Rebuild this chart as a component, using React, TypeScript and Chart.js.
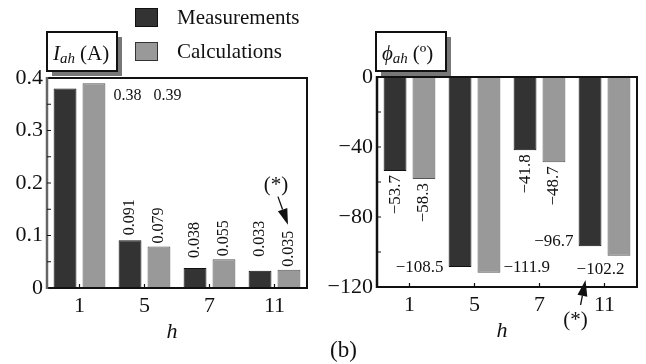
import React, { useEffect, useRef } from 'react';
import { Chart, registerables } from 'chart.js';

Chart.register(...registerables);

// ---- data ----
const harmonics = ['1', '5', '7', '11'];
const seriesNames = ['Measurements', 'Calculations'];
const currentMeasured = [0.38, 0.091, 0.038, 0.033];
const currentCalculated = [0.39, 0.079, 0.055, 0.035];
const angleMeasured = [-53.7, -108.5, -41.8, -96.7];
const angleCalculated = [-58.3, -111.9, -48.7, -102.2];
const currentTicks = [0, 0.1, 0.2, 0.3, 0.4];
const angleTicks = [-120, -80, -40, 0];

// ---- styles ----
const SERIF = '"Liberation Serif", "Times New Roman", "DejaVu Serif", serif';
const DARK = '#333333';
const LIGHT = '#999999';
const INK = '#111111';

const fmtCurrent = (v: number) => String(v);
const fmtAngle = (v: number) => (v < 0 ? '\u2212' + Math.abs(v) : String(v));

function drawFrame(chart: any, majors: number[], leftColor: string) {
  const { ctx, chartArea: a, scales } = chart;
  ctx.save();
  ctx.strokeStyle = INK;
  ctx.lineWidth = 2;
  ctx.beginPath();
  ctx.moveTo(a.left, a.top);
  ctx.lineTo(a.right, a.top);
  ctx.lineTo(a.right, a.bottom);
  ctx.lineTo(a.left - 1, a.bottom);
  ctx.stroke();
  ctx.strokeStyle = leftColor;
  ctx.lineWidth = 2.5;
  ctx.beginPath();
  ctx.moveTo(a.left, a.top - 1);
  ctx.lineTo(a.left, a.bottom + 1);
  ctx.stroke();
  ctx.strokeStyle = INK;
  ctx.lineWidth = 1.2;
  const vals = [...majors];
  for (let i = 0; i < majors.length - 1; i++) vals.push((majors[i] + majors[i + 1]) / 2);
  ctx.beginPath();
  for (const v of vals) {
    const py = scales.y.getPixelForValue(v);
    if (Math.abs(py - a.top) < 2 || Math.abs(py - a.bottom) < 2) continue;
    ctx.moveTo(a.left, py);
    ctx.lineTo(a.left + 4, py);
  }
  for (let i = 0; i < harmonics.length; i++) {
    const px = scales.x.getPixelForValue(i);
    ctx.moveTo(px, a.bottom);
    ctx.lineTo(px, a.bottom - 4);
  }
  ctx.stroke();
  ctx.restore();
}

function rotUp(ctx: CanvasRenderingContext2D, x: number, y: number, text: string) {
  ctx.save();
  ctx.translate(x, y);
  ctx.rotate(-Math.PI / 2);
  ctx.textAlign = 'left';
  ctx.textBaseline = 'middle';
  ctx.fillText(text, 0, 0);
  ctx.restore();
}

function rotDown(ctx: CanvasRenderingContext2D, x: number, y: number, text: string) {
  ctx.save();
  ctx.translate(x, y);
  ctx.rotate(-Math.PI / 2);
  ctx.textAlign = 'right';
  ctx.textBaseline = 'middle';
  ctx.fillText(text, 0, 0);
  ctx.restore();
}

function arrow(ctx: CanvasRenderingContext2D, x1: number, y1: number, x2: number, y2: number) {
  const ang = Math.atan2(y2 - y1, x2 - x1);
  const len = 16, hw = 5;
  const bx = x2 - len * Math.cos(ang), by = y2 - len * Math.sin(ang);
  ctx.save();
  ctx.strokeStyle = INK;
  ctx.fillStyle = INK;
  ctx.lineWidth = 1.3;
  ctx.beginPath();
  ctx.moveTo(x1, y1);
  ctx.lineTo(bx, by);
  ctx.stroke();
  ctx.beginPath();
  ctx.moveTo(x2, y2);
  ctx.lineTo(bx + hw * Math.sin(ang), by - hw * Math.cos(ang));
  ctx.lineTo(bx - hw * Math.sin(ang), by + hw * Math.cos(ang));
  ctx.closePath();
  ctx.fill();
  ctx.restore();
}

function titleBox(ctx: CanvasRenderingContext2D, x: number, y: number, w: number, h: number, main: string, sub: string, rest: string) {
  ctx.save();
  ctx.fillStyle = '#777';
  ctx.fillRect(x + 5, y + 5, w, h);
  ctx.fillStyle = '#fff';
  ctx.fillRect(x, y, w, h);
  ctx.strokeStyle = INK;
  ctx.lineWidth = 2;
  ctx.strokeRect(x, y, w, h);
  ctx.fillStyle = INK;
  ctx.textAlign = 'left';
  ctx.textBaseline = 'alphabetic';
  let cx = x + 6;
  const base = y + 28;
  ctx.font = `italic 21px ${SERIF}`;
  ctx.fillText(main, cx, base);
  cx += ctx.measureText(main).width;
  ctx.font = `italic 15px ${SERIF}`;
  ctx.fillText(sub, cx, base + 3);
  cx += ctx.measureText(sub).width + 5;
  ctx.font = `21px ${SERIF}`;
  ctx.fillText(rest, cx, base);
  ctx.restore();
}

function axisName(chart: any) {
  const { ctx, chartArea: a } = chart;
  ctx.save();
  ctx.fillStyle = INK;
  ctx.font = `italic 22px ${SERIF}`;
  ctx.textAlign = 'center';
  ctx.textBaseline = 'alphabetic';
  ctx.fillText('h', (a.left + a.right) / 2 - 5, a.bottom + 50);
  ctx.restore();
}

function drawLeft(chart: any) {
  const { ctx, chartArea: a } = chart;
  drawFrame(chart, currentTicks, '#666');
  axisName(chart);
  const m = chart.getDatasetMeta(0).data;
  const c = chart.getDatasetMeta(1).data;
  ctx.save();
  ctx.fillStyle = INK;
  ctx.font = `16px ${SERIF}`;
  ctx.textAlign = 'left';
  ctx.textBaseline = 'middle';
  const right0 = c[0].x + c[0].width / 2;
  ctx.fillText(fmtCurrent(currentMeasured[0]), right0 + 8, c[0].y + 13);
  ctx.fillText(fmtCurrent(currentCalculated[0]), right0 + 48, c[0].y + 13);
  const gapM = [0, 5, 10, 14];
  const gapC = [0, 3, 3, 3];
  for (let i = 1; i < harmonics.length; i++) {
    rotUp(ctx, m[i].x, m[i].y - gapM[i], fmtCurrent(currentMeasured[i]));
    rotUp(ctx, c[i].x, c[i].y - gapC[i], fmtCurrent(currentCalculated[i]));
  }
  ctx.restore();

  // (*) annotation
  const tipX = c[3].x - 1, tipY = c[3].y - 45;
  arrow(ctx, tipX - 10, tipY - 28, tipX, tipY);
  ctx.save();
  ctx.fillStyle = INK;
  ctx.font = `21px ${SERIF}`;
  ctx.textAlign = 'center';
  ctx.textBaseline = 'middle';
  ctx.fillText('(*)', tipX - 12, tipY - 39);
  ctx.restore();

  // title box
  titleBox(ctx, a.left, a.top - 46, 70, 39, 'I', 'ah', '(A)');

  // legend
  ctx.save();
  const lx = 135;
  const rows = [
    { y: 8, fill: DARK, stroke: INK, name: seriesNames[0] },
    { y: 42, fill: LIGHT, stroke: '#333', name: seriesNames[1] },
  ];
  for (const r of rows) {
    ctx.fillStyle = r.fill;
    ctx.fillRect(lx, r.y, 23, 19);
    ctx.strokeStyle = r.stroke;
    ctx.lineWidth = 1;
    ctx.strokeRect(lx + 0.5, r.y + 0.5, 22, 18);
    ctx.fillStyle = INK;
    ctx.font = `21px ${SERIF}`;
    ctx.textAlign = 'left';
    ctx.textBaseline = 'middle';
    ctx.fillText(r.name, 177, r.y + 10);
  }
  ctx.restore();
}

function drawRight(chart: any) {
  const { ctx, chartArea: a } = chart;
  drawFrame(chart, angleTicks, INK);
  axisName(chart);
  const m = chart.getDatasetMeta(0).data;
  const c = chart.getDatasetMeta(1).data;
  ctx.save();
  ctx.fillStyle = INK;
  ctx.font = `17px ${SERIF}`;
  for (const i of [0, 2]) {
    rotDown(ctx, m[i].x, m[i].y + 4, fmtAngle(angleMeasured[i]));
    rotDown(ctx, c[i].x, c[i].y + 4, fmtAngle(angleCalculated[i]));
  }
  ctx.textBaseline = 'middle';
  ctx.textAlign = 'right';
  ctx.fillText(fmtAngle(angleMeasured[1]), m[1].x - m[1].width / 2 - 5, m[1].y + 1);
  ctx.fillText(fmtAngle(angleMeasured[3]), m[3].x - m[3].width / 2 - 5, m[3].y - 5);
  ctx.textAlign = 'left';
  ctx.fillText(fmtAngle(angleCalculated[1]), c[1].x + c[1].width / 2 + 3, c[1].y - 5);
  ctx.textAlign = 'center';
  ctx.fillText(fmtAngle(angleCalculated[3]), (m[3].x + c[3].x) / 2 - 4, c[3].y + 14);
  ctx.restore();

  // (*) annotation
  const tipX = m[3].x - 4.5, tipY = a.bottom - 7;
  arrow(ctx, tipX - 5, tipY + 25, tipX, tipY);
  ctx.save();
  ctx.fillStyle = INK;
  ctx.font = `21px ${SERIF}`;
  ctx.textAlign = 'center';
  ctx.textBaseline = 'middle';
  ctx.fillText('(*)', tipX - 10, tipY + 40);
  // panel tag
  ctx.textAlign = 'left';
  ctx.textBaseline = 'alphabetic';
  ctx.font = `23px ${SERIF}`;
  ctx.fillText('(b)', 7, 357);
  ctx.restore();

  titleBox(ctx, a.left - 1, a.top - 45, 70, 39, '\u03D5', 'ah', '(\u00BA)');
}

function makeConfig(
  meas: number[],
  calc: number[],
  ticks: number[],
  padding: any,
  yWidth: number,
  xHeight: number,
  fmtTick: (v: number) => string,
  draw: (chart: any) => void
): any {
  return {
    type: 'bar',
    data: {
      labels: harmonics,
      datasets: [
        {
          label: seriesNames[0],
          data: meas,
          backgroundColor: DARK,
          borderColor: INK,
          borderWidth: 1,
          borderSkipped: false,
          barPercentage: 0.79,
          categoryPercentage: 0.89,
        },
        {
          label: seriesNames[1],
          data: calc,
          backgroundColor: LIGHT,
          borderColor: '#555',
          borderWidth: 1,
          borderSkipped: false,
          barPercentage: 0.79,
          categoryPercentage: 0.89,
        },
      ],
    },
    options: {
      responsive: false,
      animation: false,
      layout: { padding },
      plugins: {
        legend: { display: false },
        tooltip: { enabled: false },
        title: { display: false },
      },
      scales: {
        x: {
          grid: { display: false, drawTicks: false },
          border: { display: false },
          ticks: { color: INK, font: { family: SERIF, size: 22 }, padding: 5, maxRotation: 0 },
          afterFit: (s: any) => {
            s.height = xHeight;
          },
        },
        y: {
          min: ticks[0],
          max: ticks[ticks.length - 1],
          grid: { display: false, drawTicks: false },
          border: { display: false },
          ticks: {
            color: INK,
            font: { family: SERIF, size: 22 },
            padding: 4,
            callback: (v: any) => fmtTick(Number(v)),
          },
          afterBuildTicks: (s: any) => {
            s.ticks = ticks.map((v) => ({ value: v }));
          },
          afterFit: (s: any) => {
            s.width = yWidth;
          },
        },
      },
    },
    plugins: [{ id: 'decor', afterDraw: draw }],
  };
}

export default function App() {
  const leftRef = useRef<HTMLCanvasElement>(null);
  const rightRef = useRef<HTMLCanvasElement>(null);

  useEffect(() => {
    const left = new Chart(
      leftRef.current!,
      makeConfig(
        currentMeasured,
        currentCalculated,
        currentTicks,
        { left: 0, top: 78, right: 16, bottom: 0 },
        47,
        76,
        (v) => (v === 0 ? '0' : v.toFixed(1)),
        drawLeft
      )
    );
    const right = new Chart(
      rightRef.current!,
      makeConfig(
        angleMeasured,
        angleCalculated,
        angleTicks,
        { left: 0, top: 77, right: 9, bottom: 0 },
        54,
        77,
        (v) => fmtAngle(v),
        drawRight
      )
    );
    return () => {
      left.destroy();
      right.destroy();
    };
  }, []);

  const canvasStyle = { position: 'absolute' as const, top: 0, width: 323, height: 364 };
  return (
    <div style={{ position: 'absolute', left: 0, top: 0, width: 646, height: 364, background: '#fff' }}>
      <canvas ref={leftRef} width={323} height={364} style={{ ...canvasStyle, left: 0 }} />
      <canvas ref={rightRef} width={323} height={364} style={{ ...canvasStyle, left: 323 }} />
    </div>
  );
}
